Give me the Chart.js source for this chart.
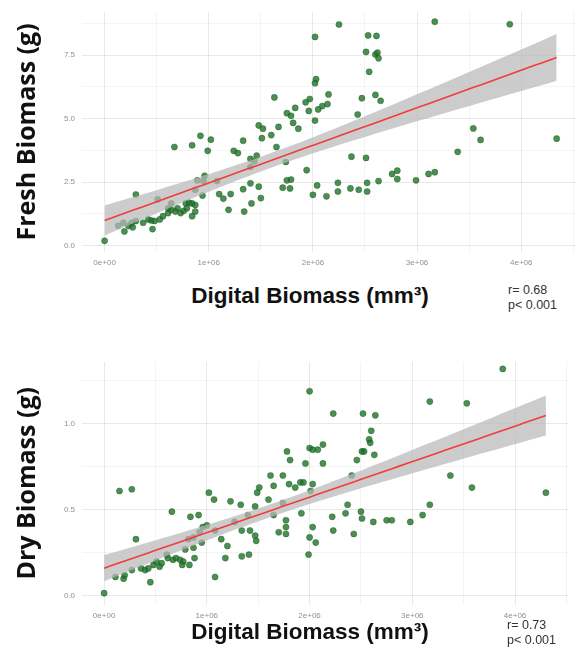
<!DOCTYPE html>
<html>
<head>
<meta charset="utf-8">
<script src="https://cdn.jsdelivr.net/npm/chart.js@4.4.1/dist/chart.umd.min.js"></script>
<style>
    body { margin: 0; background: #fff; width: 580px; height: 663px; position: relative; overflow: hidden; font-family: "Liberation Sans", Arial, sans-serif; }
    .box { position: absolute; left: 0; width: 580px; }
    .xtitle { position: absolute; font-family: "Liberation Sans", Arial, sans-serif; font-weight: bold; font-size: 22.5px; color: #111; transform: translateX(-50%); white-space: nowrap; }
    .stats { position: absolute; font-size: 12.5px; line-height: 15px; color: #333; }
</style>
</head>
<body>
<div class="box" style="top:0;height:275px"><canvas id="freshChart"></canvas></div>
<div class="xtitle" style="left:310px;top:283px">Digital Biomass (mm³)</div>
<div class="stats" style="left:508px;top:283px">r= 0.68<br>p&lt; 0.001</div>

<div class="box" style="top:340px;height:290px"><canvas id="dryChart"></canvas></div>
<div class="xtitle" style="left:310px;top:619px">Digital Biomass (mm³)</div>
<div class="stats" style="left:507px;top:618px">r= 0.73<br>p&lt; 0.001</div>

<script>
// digital biomass in millions of mm³ (axis unit), biomass in g
const freshX = [0.00,0.30,0.13,0.18,0.23,0.19,0.27,0.26,0.30,0.37,0.42,0.45,0.48,0.53,0.46,0.56,0.61,0.64,0.61,0.51,0.64,0.68,0.70,0.73,0.76,0.78,0.81,0.84,0.87,0.79,0.87,0.84,0.89,0.96,0.95,0.94,0.87,1.08,1.10,1.14,1.21,1.19,1.34,1.33,1.40,1.48,1.41,1.50,
    0.67,0.84,0.92,1.02,0.99,1.33,1.24,1.28,1.40,1.44,1.46,1.40,1.51,1.48,1.52,1.63,1.60,1.67,1.65,1.74,1.75,1.79,1.83,1.81,1.86,1.71,1.75,1.79,1.78,
    2.25,2.02,2.53,2.61,3.17,3.89,2.51,2.60,2.62,2.63,2.54,2.03,2.02,2.15,1.97,1.93,1.96,2.05,2.09,2.14,2.02,2.47,2.60,2.65,2.43,2.37,2.51,1.94,2.04,2.00,2.13,2.24,2.24,2.36,2.44,2.52,2.52,2.63,2.76,2.81,2.81,2.99,3.11,3.17,3.39,3.54,3.61,4.34];
const freshY = [0.19,2.01,0.78,0.90,0.78,0.56,0.72,0.90,0.97,0.90,1.03,0.99,0.97,1.03,0.65,1.16,1.28,1.41,1.47,1.82,1.66,1.34,1.47,1.28,1.37,1.66,1.69,1.66,1.60,1.47,1.34,1.16,2.57,2.75,2.54,1.97,2.20,2.54,2.03,1.85,2.03,1.41,1.34,2.22,2.45,2.32,1.66,1.87,
    3.88,3.95,4.32,4.17,3.73,4.13,3.73,3.64,3.41,3.32,3.54,3.10,4.23,4.73,4.60,5.83,4.35,4.67,3.88,3.29,5.21,5.11,5.42,4.83,4.60,2.28,2.57,2.60,2.25,
    8.70,8.21,8.27,8.25,8.81,8.71,7.62,7.52,7.59,7.37,6.84,6.55,6.39,5.95,5.77,5.64,5.30,5.36,5.49,5.57,4.92,5.80,5.93,5.70,5.16,3.50,3.45,2.97,2.37,2.00,1.94,2.47,2.13,2.25,2.20,2.13,2.47,2.54,2.82,2.95,2.62,2.57,2.82,2.89,3.69,4.61,4.16,4.21];

const dryX = [0.00,0.31,0.15,0.27,0.11,0.19,0.20,0.27,0.36,0.40,0.43,0.45,0.48,0.51,0.54,0.56,0.61,0.62,0.67,0.70,0.74,0.77,0.76,0.83,0.66,0.79,0.87,0.88,0.82,0.87,0.84,0.92,0.95,0.93,0.96,1.00,1.02,1.07,1.08,1.14,1.08,1.20,1.18,1.23,1.27,1.33,1.34,1.34,1.40,1.41,1.42,1.47,1.47,1.48,1.49,
    1.51,1.60,1.62,1.65,1.65,1.70,1.74,1.74,1.77,1.78,1.81,1.80,1.86,1.77,1.77,
    2.00,2.23,2.52,2.64,2.60,2.58,2.59,2.51,2.53,2.63,2.46,2.41,2.00,2.03,2.08,2.13,1.96,2.13,1.91,1.94,2.03,2.01,1.92,2.03,2.00,2.06,1.99,2.22,2.23,2.35,2.37,2.43,2.50,2.51,2.62,2.75,2.80,2.98,3.10,3.17,3.17,3.53,3.88,3.37,3.58,4.30];
const dryY = [0.016,0.33,0.61,0.62,0.11,0.10,0.12,0.15,0.16,0.15,0.16,0.08,0.18,0.20,0.17,0.19,0.24,0.22,0.21,0.22,0.21,0.20,0.18,0.18,0.49,0.27,0.28,0.22,0.33,0.34,0.46,0.47,0.31,0.37,0.40,0.41,0.60,0.56,0.38,0.33,0.11,0.29,0.22,0.55,0.43,0.53,0.38,0.23,0.47,0.24,0.38,0.52,0.35,0.32,0.60,
    0.63,0.56,0.70,0.64,0.47,0.37,0.70,0.54,0.40,0.84,0.79,0.65,0.63,0.44,0.36,
    1.19,1.06,1.06,1.05,0.96,0.91,0.89,0.84,0.84,0.82,0.79,0.70,0.86,0.85,0.85,0.88,0.77,0.77,0.66,0.66,0.65,0.61,0.48,0.40,0.34,0.31,0.24,0.46,0.38,0.48,0.53,0.36,0.49,0.45,0.43,0.44,0.44,0.43,0.47,0.53,1.13,1.12,1.32,0.70,0.63,0.60];

const xTickLabels = ['0e+00', '1e+06', '2e+06', '3e+06', '4e+06'];

// linear fit with 95% confidence band, like geom_smooth(method = "lm")
function fitBand(xs, ys) {
    const n = xs.length;
    const mx = xs.reduce((a, b) => a + b, 0) / n;
    const my = ys.reduce((a, b) => a + b, 0) / n;
    let sxx = 0, sxy = 0;
    for (let i = 0; i < n; i++) {
        sxx += (xs[i] - mx) ** 2;
        sxy += (xs[i] - mx) * (ys[i] - my);
    }
    const b = sxy / sxx, a = my - b * mx;
    let sse = 0;
    for (let i = 0; i < n; i++) sse += (ys[i] - a - b * xs[i]) ** 2;
    const s = Math.sqrt(sse / (n - 2));
    const t = 1.98;
    const lo = Math.min(...xs), hi = Math.max(...xs);
    const line = [], upper = [], lower = [];
    for (let i = 0; i <= 60; i++) {
        const x = lo + (hi - lo) * i / 60;
        const yh = a + b * x;
        const se = s * Math.sqrt(1 / n + (x - mx) ** 2 / sxx);
        line.push({ x: x, y: yh });
        upper.push({ x: x, y: yh + t * se });
        lower.push({ x: x, y: yh - t * se });
    }
    return { line, upper, lower };
}

function makeChart(id, xs, ys, cfg) {
    const fit = fitBand(xs, ys);
    const isMajorX = v => Math.abs(v - Math.round(v)) < 1e-6;
    const isMajorY = v => Math.abs(v / cfg.yMajor - Math.round(v / cfg.yMajor)) < 1e-6;

    return new Chart(document.getElementById(id), {
        type: 'scatter',
        data: {
            datasets: [
                {
                    data: xs.map((x, i) => ({ x: x, y: ys[i] })),
                    backgroundColor: 'rgba(30,115,40,0.8)',
                    borderColor: 'rgba(20,80,25,0.6)',
                    borderWidth: 0.6,
                    pointRadius: 3.1,
                    order: 3
                },
                {
                    data: fit.upper, showLine: true, pointRadius: 0, borderWidth: 0,
                    borderColor: 'rgba(0,0,0,0)', backgroundColor: 'rgba(185,185,185,0.72)',
                    fill: '+1', order: 2
                },
                {
                    data: fit.lower, showLine: true, pointRadius: 0, borderWidth: 0,
                    borderColor: 'rgba(0,0,0,0)', fill: false, order: 2
                },
                {
                    data: fit.line, showLine: true, pointRadius: 0, borderWidth: 1.6,
                    borderColor: '#f23c3c', fill: false, order: 1
                }
            ]
        },
        options: {
            responsive: true,
            maintainAspectRatio: false,
            animation: false,
            events: [],
            layout: { padding: { top: cfg.padTop, right: cfg.padRight, left: 0, bottom: 0 } },
            plugins: { legend: { display: false }, tooltip: { enabled: false } },
            scales: {
                x: {
                    type: 'linear',
                    min: cfg.xMin,
                    max: cfg.xMax,
                    afterFit: s => { s.height = cfg.xHeight; },
                    border: { display: false },
                    grid: {
                        drawTicks: false,
                        color: c => isMajorX(c.tick.value) ? 'rgba(0,0,0,0.085)' : 'rgba(0,0,0,0.045)'
                    },
                    ticks: {
                        stepSize: 0.5,
                        includeBounds: false,
                        autoSkip: false,
                        maxRotation: 0,
                        padding: 6,
                        color: '#909090',
                        font: { size: 8, family: 'Liberation Sans' },
                        callback: v => isMajorX(v) ? xTickLabels[Math.round(v)] : ''
                    }
                },
                y: {
                    min: cfg.yMin,
                    max: cfg.yMax,
                    afterFit: s => { s.width = 82; },
                    border: { display: false },
                    grid: {
                        drawTicks: false,
                        color: c => isMajorY(c.tick.value) ? 'rgba(0,0,0,0.085)' : 'rgba(0,0,0,0.045)'
                    },
                    ticks: {
                        stepSize: cfg.yMajor / 2,
                        includeBounds: false,
                        autoSkip: false,
                        padding: 7,
                        color: '#909090',
                        font: { size: 8, family: 'Liberation Sans' },
                        callback: v => isMajorY(v) ? v.toFixed(1) : ''
                    },
                    title: {
                        display: true,
                        text: cfg.yTitle,
                        color: '#111',
                        padding: { top: 13, bottom: 0 },
                        font: { size: 25, weight: 'bold', family: 'Open Sans' }
                    }
                }
            }
        }
    });
}

makeChart('freshChart', freshX, freshY, {
    yTitle: 'Fresh Biomass (g)',
    xMin: -0.217, xMax: 4.52,
    yMin: -0.25, yMax: 9.2, yMajor: 2.5,
    padTop: 1, padRight: 0, xHeight: 23
});

makeChart('dryChart', dryX, dryY, {
    yTitle: 'Dry Biomass (g)',
    xMin: -0.215, xMax: 4.515,
    yMin: -0.05, yMax: 1.36, yMajor: 0.5,
    padTop: 22, padRight: 12, xHeight: 25.5
});
</script>
</body>
</html>
